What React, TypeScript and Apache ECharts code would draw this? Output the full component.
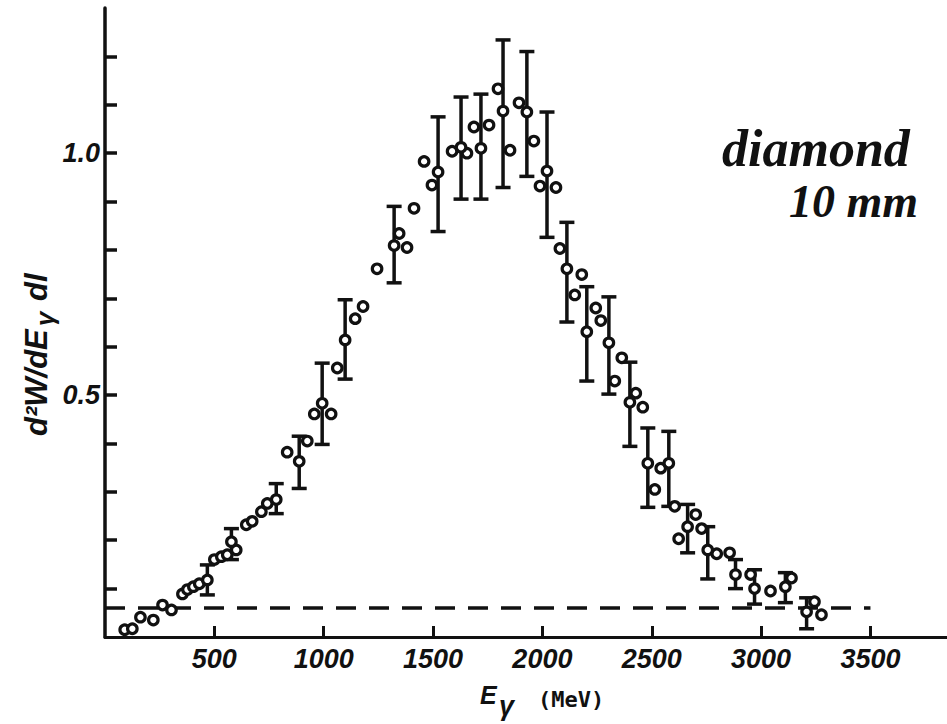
import React, { useEffect, useRef } from 'react';
import * as echarts from 'echarts';

// Photon energy (MeV) and yield for the points drawn without error bars
const energy = [
  90, 125, 162, 221, 263, 304, 354, 377, 404, 431, 500, 532, 559, 600, 646, 673, 715, 742,
  833, 925, 957, 1034, 1062, 1144, 1180, 1244, 1345, 1381, 1413, 1459, 1495, 1587, 1655,
  1687, 1756, 1797, 1852, 1893, 1961, 1989, 2062, 2080, 2148, 2180, 2244, 2267, 2331, 2363,
  2427, 2459, 2514, 2541, 2605, 2623, 2701, 2728, 2797, 2856, 2952, 3043, 3139, 3244, 3276,
];
const yieldValues = [
  0.015, 0.017, 0.041, 0.035, 0.066, 0.056, 0.089, 0.098, 0.104, 0.11, 0.16, 0.166, 0.17,
  0.18, 0.232, 0.239, 0.259, 0.276, 0.382, 0.405, 0.461, 0.461, 0.556, 0.658, 0.683, 0.761,
  0.834, 0.805, 0.886, 0.983, 0.934, 1.004, 1.0, 1.054, 1.058, 1.133, 1.006, 1.104, 1.025,
  0.932, 0.929, 0.803, 0.707, 0.749, 0.68, 0.654, 0.529, 0.577, 0.504, 0.475, 0.305, 0.349,
  0.27, 0.203, 0.253, 0.224, 0.172, 0.174, 0.129, 0.095, 0.122, 0.073, 0.046,
];

// Points drawn with error bars
const errEnergy = [
  468, 578, 783, 888, 993, 1098, 1322, 1523, 1628, 1719, 1820, 1929, 2021, 2112, 2203, 2304,
  2400, 2482, 2578, 2664, 2756, 2883, 2970, 3111, 3208,
];
const errValue = [
  0.118, 0.197, 0.284, 0.363, 0.483, 0.614, 0.809, 0.961, 1.012, 1.01, 1.087, 1.085, 0.963,
  0.761, 0.631, 0.608, 0.485, 0.359, 0.359, 0.228, 0.18, 0.129, 0.1, 0.104, 0.052,
];
const errLow = [
  0.087, 0.16, 0.255, 0.307, 0.398, 0.533, 0.732, 0.838, 0.905, 0.905, 0.929, 0.952, 0.826,
  0.651, 0.529, 0.502, 0.394, 0.268, 0.27, 0.174, 0.12, 0.1, 0.068, 0.071, 0.017,
];
const errHigh = [
  0.149, 0.224, 0.317, 0.415, 0.566, 0.697, 0.89, 1.075, 1.116, 1.122, 1.234, 1.21, 1.085,
  0.857, 0.724, 0.703, 0.568, 0.432, 0.425, 0.274, 0.228, 0.16, 0.139, 0.133, 0.081,
];

// Background level (dashed line)
const backgroundLevel = 0.06;
const backgroundRange = [0, 3500];

// Axis ticks and labels
const xTickValues = [500, 1000, 1500, 2000, 2500, 3000, 3500];
const yTickValues = [0.1, 0.2, 0.3, 0.4, 0.5, 0.6, 0.7, 0.8, 0.9, 1.0, 1.1, 1.2];
const yLabelValues = [0.5, 1.0];

const INK = '#111';

export default function App() {
  const ref = useRef<HTMLDivElement>(null);

  useEffect(() => {
    if (!ref.current) return;
    const chart = echarts.init(ref.current, undefined, { renderer: 'svg' });

    const labelFont = {
      fontFamily: 'Liberation Sans',
      fontWeight: 'bold' as const,
      fontStyle: 'italic' as const,
      fontSize: 27,
      color: INK,
    };
    const pointStyle = { color: '#fff', borderColor: INK, borderWidth: 3.2, opacity: 1 };

    chart.setOption({
      animation: false,
      backgroundColor: '#fff',
      grid: { left: 105, right: 0, top: 8, bottom: 87 },
      xAxis: {
        type: 'value',
        min: 0,
        max: 3850,
        axisLine: { show: true, lineStyle: { color: INK, width: 3 } },
        axisTick: {
          show: true,
          inside: true,
          length: 11,
          customValues: xTickValues,
          lineStyle: { color: INK, width: 3 },
        },
        axisLabel: {
          customValues: xTickValues,
          margin: 8,
          ...labelFont,
          formatter: (v: number) => String(v),
        },
        splitLine: { show: false },
      },
      yAxis: {
        type: 'value',
        min: 0,
        max: 1.3,
        axisLine: { show: true, lineStyle: { color: INK, width: 3.5 } },
        axisTick: {
          show: true,
          inside: true,
          length: 12,
          customValues: yTickValues,
          lineStyle: { color: INK, width: 3.5 },
        },
        axisLabel: {
          customValues: yLabelValues,
          margin: 5,
          ...labelFont,
          formatter: (v: number) => v.toFixed(1),
        },
        splitLine: { show: false },
      },
      series: [
        {
          type: 'line',
          data: [
            [backgroundRange[0], backgroundLevel],
            [backgroundRange[1], backgroundLevel],
          ],
          symbol: 'none',
          lineStyle: { color: INK, width: 3.5, type: [20, 13], cap: 'butt', opacity: 1 },
          z: 1,
        },
        {
          type: 'custom',
          data: errEnergy.map((x, i) => [x, errLow[i], errHigh[i]]),
          encode: { x: 0, y: [1, 2] },
          renderItem: (params: any, api: any) => {
            const x = api.value(0);
            const lo = api.coord([x, api.value(1)]);
            const hi = api.coord([x, api.value(2)]);
            const w = 7.5;
            const style = { stroke: INK, lineWidth: 3.5 };
            return {
              type: 'group',
              children: [
                { type: 'line', shape: { x1: lo[0], y1: lo[1], x2: hi[0], y2: hi[1] }, style },
                { type: 'line', shape: { x1: lo[0] - w, y1: lo[1], x2: lo[0] + w, y2: lo[1] }, style },
                { type: 'line', shape: { x1: hi[0] - w, y1: hi[1], x2: hi[0] + w, y2: hi[1] }, style },
              ],
            };
          },
          z: 2,
        },
        {
          type: 'scatter',
          data: energy.map((x, i) => [x, yieldValues[i]]),
          symbol: 'circle',
          symbolSize: 9.5,
          itemStyle: pointStyle,
          z: 3,
        },
        {
          type: 'scatter',
          data: errEnergy.map((x, i) => [x, errValue[i]]),
          symbol: 'circle',
          symbolSize: 9.5,
          itemStyle: pointStyle,
          z: 3,
        },
      ],
      graphic: [
        {
          type: 'group',
          x: 36,
          y: 341,
          rotation: Math.PI / 2,
          children: [
            {
              type: 'text',
              x: -95,
              y: 0,
              style: {
                text: 'd²W/dE',
                fontFamily: 'Liberation Sans',
                fontWeight: 'bold',
                fontStyle: 'italic',
                fontSize: 31,
                fill: INK,
                align: 'left',
                verticalAlign: 'middle',
              },
            },
            {
              type: 'text',
              x: 15,
              y: 9,
              style: {
                text: 'γ',
                fontFamily: 'Liberation Sans',
                fontWeight: 'bold',
                fontStyle: 'italic',
                fontSize: 26,
                fill: INK,
                align: 'left',
                verticalAlign: 'middle',
              },
            },
            {
              type: 'text',
              x: 40,
              y: 0,
              style: {
                text: 'dl',
                fontFamily: 'Liberation Sans',
                fontWeight: 'bold',
                fontStyle: 'italic',
                fontSize: 31,
                fill: INK,
                align: 'left',
                verticalAlign: 'middle',
              },
            },
          ],
        },
        {
          type: 'text',
          x: 480,
          y: 695,
          style: {
            text: 'E',
            fontFamily: 'Liberation Sans',
            fontWeight: 'bold',
            fontStyle: 'italic',
            fontSize: 25,
            fill: INK,
            align: 'left',
            verticalAlign: 'middle',
          },
        },
        {
          type: 'text',
          x: 499,
          y: 706,
          style: {
            text: 'γ',
            fontFamily: 'Liberation Sans',
            fontWeight: 'bold',
            fontStyle: 'italic',
            fontSize: 27,
            fill: INK,
            align: 'left',
            verticalAlign: 'middle',
          },
        },
        {
          type: 'text',
          x: 538,
          y: 699,
          style: {
            text: '(MeV)',
            fontFamily: 'DejaVu Sans Mono',
            fontWeight: 'bold',
            fontSize: 22,
            fill: INK,
            align: 'left',
            verticalAlign: 'middle',
          },
        },
        {
          type: 'text',
          x: 722,
          y: 148,
          style: {
            text: 'diamond',
            fontFamily: 'Liberation Serif',
            fontStyle: 'italic',
            fontWeight: 'bold',
            fontSize: 52,
            fill: INK,
            align: 'left',
            verticalAlign: 'middle',
          },
        },
        {
          type: 'text',
          x: 789,
          y: 201,
          style: {
            text: '10 mm',
            fontFamily: 'Liberation Serif',
            fontStyle: 'italic',
            fontWeight: 'bold',
            fontSize: 46,
            fill: INK,
            align: 'left',
            verticalAlign: 'middle',
          },
        },
      ],
    });

    return () => chart.dispose();
  }, []);

  return (
    <div
      ref={ref}
      style={{ position: 'absolute', left: 0, top: 0, width: 947, height: 724, background: '#fff' }}
    />
  );
}
